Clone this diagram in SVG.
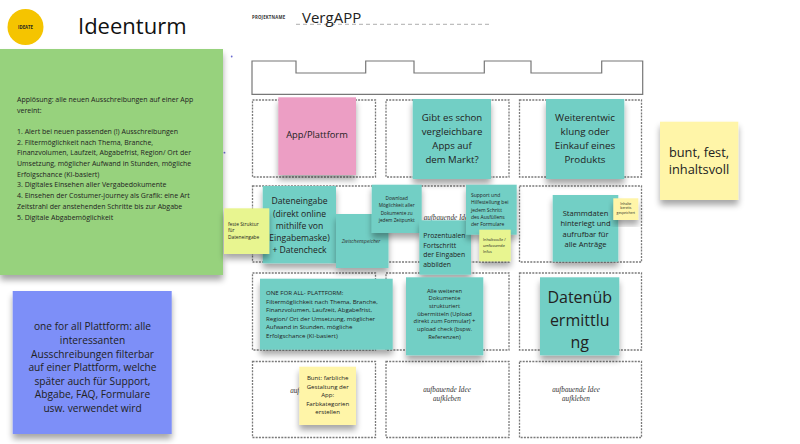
<svg xmlns="http://www.w3.org/2000/svg" width="800" height="444" viewBox="0 0 800 444">
<defs>
<filter id="sh" x="-20%" y="-20%" width="140%" height="150%">
<feGaussianBlur in="SourceAlpha" stdDeviation="3"/>
<feOffset dx="0" dy="5" result="o"/>
<feComponentTransfer><feFuncA type="linear" slope="0.35"/></feComponentTransfer>
<feMerge><feMergeNode/><feMergeNode in="SourceGraphic"/></feMerge>
</filter>
<style>
text{font-family:"Open Sans","Liberation Sans",sans-serif;fill:#222}
.box{fill:#fff;stroke:#7a7a7a;stroke-width:1.3;stroke-dasharray:2 1.2}
.teal{fill:#72cfc5;filter:url(#sh)}
.pink{fill:#ec9ec4;filter:url(#sh)}
.yel{fill:#fff5a8;filter:url(#sh)}
.lime{fill:#e8f590;filter:url(#sh)}
.c{text-anchor:middle}
.idea{font-family:"Liberation Serif","DejaVu Serif",serif;font-style:italic;font-size:7.2px;fill:#333;text-anchor:middle}
</style>
</defs>
<rect width="800" height="444" fill="#fff"/>

<g id="header">
<circle cx="25.5" cy="27" r="18" fill="#f5c400"/>
<text x="25.5" y="28.5" class="c" style="font-size:4.3px;font-weight:bold">IDEATE</text>
<text x="78" y="34" style="font-size:22px;fill:#111">Ideenturm</text>
<text x="252" y="18.5" style="font-size:4.3px;font-weight:bold;letter-spacing:0.2px;fill:#333">PROJEKTNAME</text>
<line x1="296" y1="24.3" x2="490" y2="24.3" stroke="#999" stroke-width="0.8" stroke-dasharray="4 3"/>
<text x="302" y="22.5" style="font-size:15px;fill:#222">VergAPP</text>
<circle cx="231.7" cy="56.5" r="0.9" fill="#6a6ad0"/>
<circle cx="224.5" cy="152.7" r="0.9" fill="#6a6ad0"/>
</g>

<g id="tower-top">
<path d="M252,61 H296 V73 H365.7 V61 H414 V73 H484.3 V61 H531 V73 H601.7 V61 H642.7 V94.3 H252 Z" fill="#fff" stroke="#777" stroke-width="1.2"/>
</g>

<g id="grid">
<rect class="box" x="252.5" y="100" width="123" height="77"/>
<rect class="box" x="386" y="100" width="123" height="77"/>
<rect class="box" x="519.5" y="100" width="122" height="77"/>
<rect class="box" x="252.5" y="186" width="123" height="76"/>
<rect class="box" x="386" y="186" width="123" height="76"/>
<rect class="box" x="519.5" y="186" width="122" height="76"/>
<rect class="box" x="252.5" y="273" width="123" height="77"/>
<rect class="box" x="386" y="273" width="123" height="77"/>
<rect class="box" x="519.5" y="273" width="122" height="77"/>
<rect class="box" x="252.5" y="361.5" width="123" height="76"/>
<rect class="box" x="386" y="361.5" width="123" height="76"/>
<rect class="box" x="519.5" y="361.5" width="122" height="76"/>
<text class="idea" x="447.5" y="219.5">aufbauende Idee</text>
<text class="idea" x="447.5" y="228.5">aufkleben</text>
<text class="idea" x="314" y="393">aufbauende Idee</text>
<text class="idea" x="314" y="402">aufkleben</text>
<text class="idea" x="447" y="391.5">aufbauende Idee</text>
<text class="idea" x="447" y="400.5">aufkleben</text>
<text class="idea" x="576" y="391.5">aufbauende Idee</text>
<text class="idea" x="576" y="400.5">aufkleben</text>
</g>

<g id="note-applosung">
<rect x="0" y="49" width="223" height="226" fill="#97d27d" filter="url(#sh)"/>
<g style="font-size:7px;fill:#333">
<text x="17" y="101.5">Applösung: alle neuen Ausschreibungen auf einer App</text>
<text x="17" y="113">vereint:</text>
<text x="17" y="133.5">1. Alert bei neuen passenden (!) Ausschreibungen</text>
<text x="17" y="144.5">2. Filtermöglichkeit nach Thema, Branche,</text>
<text x="17" y="155">Finanzvolumen, Laufzeit, Abgabefrist, Region/ Ort der</text>
<text x="17" y="165.5">Umsetzung, möglicher Aufwand in Stunden, mögliche</text>
<text x="17" y="176.5">Erfolgschance (KI-basiert)</text>
<text x="17" y="187">3. Digitales Einsehen aller Vergabedokumente</text>
<text x="17" y="198">4. Einsehen der Costumer-journey als Grafik: eine Art</text>
<text x="17" y="208.5">Zeitstrahl der anstehenden Schritte bis zur Abgabe</text>
<text x="17" y="219.5">5. Digitale Abgabemöglichkeit</text>
</g>
</g>

<g id="note-oneforall-blue">
<rect x="12.7" y="291" width="159" height="143" fill="#7d8ff8" filter="url(#sh)"/>
<g class="c" style="font-size:10.2px;fill:#2a2a3a">
<text x="92.5" y="330">one for all Plattform: alle</text>
<text x="92.5" y="343.5">interessanten</text>
<text x="92.5" y="357.5">Ausschreibungen filterbar</text>
<text x="92.5" y="371">auf einer Plattform, welche</text>
<text x="92.5" y="384.5">später auch für Support,</text>
<text x="92.5" y="398">Abgabe, FAQ, Formulare</text>
<text x="92.5" y="411.5">usw. verwendet wird</text>
</g>
</g>

<g id="note-app">
<rect class="pink" x="278.3" y="97.3" width="77.7" height="77.7"/>
<text class="c" x="317" y="137.5" style="font-size:9.3px">App/Plattform</text>
</g>

<g id="note-markt">
<rect class="teal" x="412.7" y="99" width="78.3" height="80"/>
<g class="c" style="font-size:9.6px"><text x="452" y="121">Gibt es schon</text><text x="452" y="135">vergleichbare</text><text x="452" y="149">Apps auf</text><text x="452" y="163">dem Markt?</text></g>
</g>

<g id="note-weiter">
<rect class="teal" x="546" y="99" width="78.3" height="80"/>
<g class="c" style="font-size:9.8px"><text x="585" y="121">Weiterentwic</text><text x="585" y="135">klung oder</text><text x="585" y="149">Einkauf eines</text><text x="585" y="163">Produkts</text></g>
</g>

<g id="note-bunt-fest">
<rect class="yel" x="660" y="121.7" width="78.3" height="78.3"/>
<g class="c" style="font-size:12.8px"><text x="699" y="156.5">bunt, fest,</text><text x="699" y="174">inhaltsvoll</text></g>
</g>

<g id="note-dateneingabe">
<rect class="teal" x="262.7" y="186" width="73.3" height="77.3"/>
<g class="c" style="font-size:8.6px"><text x="299.5" y="204">Dateneingabe</text><text x="299.5" y="216.5">(direkt online</text><text x="299.5" y="229">mithilfe von</text><text x="299.5" y="241">Eingabemaske)</text><text x="299.5" y="253">+ Datencheck</text></g>
</g>

<g id="note-feste-struktur">
<rect class="lime" x="224" y="208.3" width="45.3" height="45.7"/>
<g style="font-size:4.8px;fill:#444"><text x="228" y="225.5">feste Struktur</text><text x="228" y="232.3">für</text><text x="228" y="239.3">Dateneingabe</text></g>
</g>

<g id="note-zwischenspeicher">
<rect class="teal" x="336" y="214" width="52.5" height="54"/>
<text x="341.7" y="243" style="font-size:5px;font-style:italic;fill:#333">Zwischenspeicher</text>
</g>

<g id="note-download">
<rect class="teal" x="371.7" y="184.7" width="50" height="48.3"/>
<g class="c" style="font-size:4.7px;fill:#333"><text x="396.7" y="200">Download</text><text x="396.7" y="207.3">Möglichkeit aller</text><text x="396.7" y="215">Dokumente zu</text><text x="396.7" y="222.3">jedem Zeitpunkt</text></g>
</g>

<g id="note-prozent">
<rect class="teal" x="419.3" y="220.3" width="51.7" height="54.4"/>
<g style="font-size:6.8px"><text x="423.3" y="238">Prozentualen</text><text x="423.3" y="247.5">Fortschritt</text><text x="423.3" y="257">der Eingaben</text><text x="423.3" y="266.5">abbilden</text></g>
</g>

<g id="note-support">
<rect class="teal" x="466" y="184.7" width="50.7" height="50"/>
<g style="font-size:5px"><text x="471" y="197">Support und</text><text x="471" y="204.3">Hilfestellung bei</text><text x="471" y="211.5">jedem Schritt</text><text x="471" y="218.7">des Ausfüllens</text><text x="471" y="226">der Formulare</text></g>
</g>

<g id="note-inhaltsvolle">
<rect class="lime" x="479.3" y="229.7" width="31.4" height="31.6"/>
<g style="font-size:3.8px;fill:#444"><text x="483" y="241">Inhaltsvolle /</text><text x="483" y="247">umfassende</text><text x="483" y="253">Infos</text></g>
</g>

<g id="note-stammdaten">
<rect class="teal" x="552.7" y="195" width="65.6" height="66.7"/>
<g class="c" style="font-size:7.6px"><text x="585.5" y="215.5">Stammdaten</text><text x="585.5" y="226">hinterlegt und</text><text x="585.5" y="236.5">aufrufbar für</text><text x="585.5" y="247">alle Anträge</text></g>
</g>

<g id="note-inhalte-gespeichert">
<rect class="yel" x="613.3" y="198.3" width="25" height="21.7"/>
<g class="c" style="font-size:3.4px;fill:#444"><text x="625.8" y="204.5">Inhalte</text><text x="625.8" y="209">bereits</text><text x="625.8" y="213.5">gespeichert</text></g>
</g>

<g id="note-oneforall-teal">
<rect class="teal" x="260" y="278.7" width="132.7" height="71"/>
<g style="font-size:6.1px;fill:#333"><text x="266" y="295">ONE FOR ALL- PLATTFORM:</text><text x="266" y="303.5">Filtermöglichkeit nach Thema, Branche,</text><text x="266" y="312">Finanzvolumen, Laufzeit, Abgabefrist,</text><text x="266" y="320.5">Region/ Ort der Umsetzung, möglicher</text><text x="266" y="329">Aufwand in Stunden, mögliche</text><text x="266" y="337.5">Erfolgschance (KI-basiert)</text></g>
</g>

<g id="note-dokumente">
<rect class="teal" x="406" y="277.3" width="77.3" height="78"/>
<g class="c" style="font-size:5.8px;fill:#333"><text x="444.5" y="292.7">Alle weiteren</text><text x="444.5" y="300.2">Dokumente</text><text x="444.5" y="307.8">strukturiert</text><text x="444.5" y="315.6">übermitteln (Upload</text><text x="444.5" y="323.3">direkt zum Formular) +</text><text x="444.5" y="331">upload check (bspw.</text><text x="444.5" y="339">Referenzen)</text></g>
</g>

<g id="note-datenuebermittlung">
<rect class="teal" x="540" y="277.3" width="79.3" height="78"/>
<g class="c" style="font-size:16px"><text x="579.7" y="302.5">Datenüb</text><text x="579.7" y="325.5">ermittlu</text><text x="579.7" y="348">ng</text></g>
</g>

<g id="note-farben">
<rect class="yel" x="299.3" y="366.7" width="56.7" height="58.3"/>
<g class="c" style="font-size:6.1px;fill:#333"><text x="327.7" y="380">Bunt: farbliche</text><text x="327.7" y="389">Gestaltung der</text><text x="327.7" y="397">App:</text><text x="327.7" y="405.5">Farbkategorien</text><text x="327.7" y="414">erstellen</text></g>
</g>

<g id="connectors"></g>
</svg>
